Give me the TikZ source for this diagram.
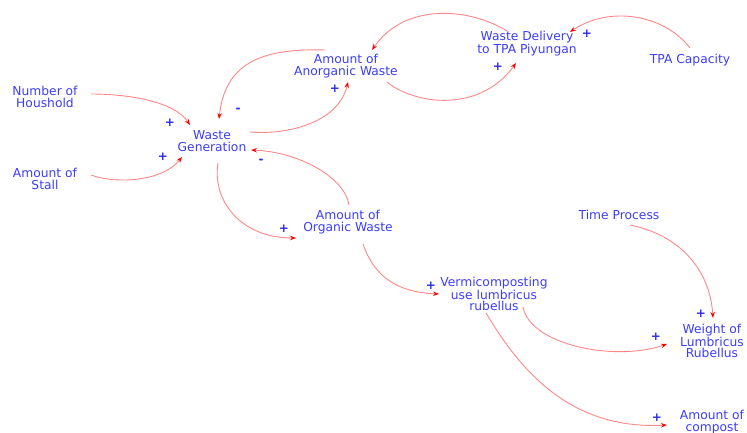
\documentclass[tikz,border=0pt]{standalone}
\usepackage{fontspec}
\setmainfont{DejaVu Sans}
\usetikzlibrary{arrows.meta,calc}
\definecolor{txtblue}{RGB}{60,60,250}
\definecolor{sgnblue}{RGB}{40,40,240}
\definecolor{linkred}{RGB}{255,135,135}
\begin{document}
\begin{tikzpicture}[x=1pt,y=-1pt,
  var/.style={text=txtblue,align=center,inner sep=0pt,font=\fontsize{12.3}{11.8}\selectfont},
  sgn/.style={text=sgnblue,inner sep=0pt,font=\fontsize{12}{12}\selectfont\bfseries},
  link/.style={draw=linkred,line width=0.9pt,-{Stealth[color=red,fill=red,length=6pt,width=4.5pt]}}]
\useasboundingbox (0,0) rectangle (747,433);
% variables
\node[var] (nh) at (45,97) {Number of\\Houshold};
\node[var] (st) at (45,179) {Amount of\\Stall};
\node[var] (wg) at (212,141) {Waste\\Generation};
\node[var] (aw) at (346,66) {Amount of\\Anorganic Waste};
\node[var] (wd) at (527,44) {Waste Delivery\\to TPA Piyungan};
\node[var] (tpa) at (690,60) {TPA Capacity};
\node[var] (ow) at (348,222) {Amount of\\Organic Waste};
\node[var] (vc) at (494,294) {Vermicomposting\\use lumbricus\\rubellus};
\node[var] (tp) at (619,215) {Time Process};
\node[var] (wl) at (712,341) {Weight of\\Lumbricus\\Rubellus};
\node[var] (ac) at (712,422) {Amount of\\compost};
% links
\draw[link] ($(nh)+(46,-3)$) .. controls (130,94) and (175,102) .. ($(wg)+(-22,-16)$);
\draw[link] ($(st)+(46,-4)$) .. controls (115,184) and (162,182) .. ($(wg)+(-30,16)$);
\draw[link] ($(wg)+(38,-9)$) .. controls (285,135) and (338,124) .. ($(aw)+(2,16)$);
\draw[link] ($(aw)+(-21,-16)$) .. controls (258,48) and (225,65) .. ($(wg)+(7,-22)$);
\draw[link] ($(ow)+(1,-17)$) .. controls (345,178) and (300,152) .. ($(wg)+(39,9)$);
\draw[link] ($(wg)+(6,22)$) .. controls (212,200) and (240,238) .. ($(ow)+(-52,16)$);
\draw[link] ($(ow)+(15,22)$) .. controls (372,270) and (390,292) .. ($(vc)+(-55,0)$);
\draw[link] ($(aw)+(41,16)$) .. controls (415,105) and (480,113) .. ($(wd)+(-11,19)$);
\draw[link] ($(wd)+(-20,-13)$) .. controls (470,8) and (405,2) .. ($(aw)+(26,-16)$);
\draw[link] ($(tpa)+(0,-12)$) .. controls (665,15) and (610,5) .. ($(wd)+(43,-12)$);
\draw[link] ($(tp)+(11,10)$) .. controls (680,235) and (710,270) .. ($(wl)+(1,-23)$);
\draw[link] ($(vc)+(29,13)$) .. controls (530,345) and (615,362) .. ($(wl)+(-45,3)$);
\draw[link] ($(vc)+(-8,19)$) .. controls (520,370) and (570,430) .. ($(ac)+(-45,3)$);
% polarities
\node[sgn] (s1) at (170,123) {+};
\node[sgn] (s2) at (163,157) {+};
\node[sgn] (s3) at (238,110) {-};
\node[sgn] (s4) at (335,89) {+};
\node[sgn] (s5) at (261,161) {-};
\node[sgn] (s6) at (284,229) {+};
\node[sgn] (s7) at (431,286) {+};
\node[sgn] (s8) at (498,67) {+};
\node[sgn] (s9) at (587,34) {+};
\node[sgn] (s10) at (701,314) {+};
\node[sgn] (s11) at (656,337) {+};
\node[sgn] (s12) at (657,418) {+};
\end{tikzpicture}
\end{document}
